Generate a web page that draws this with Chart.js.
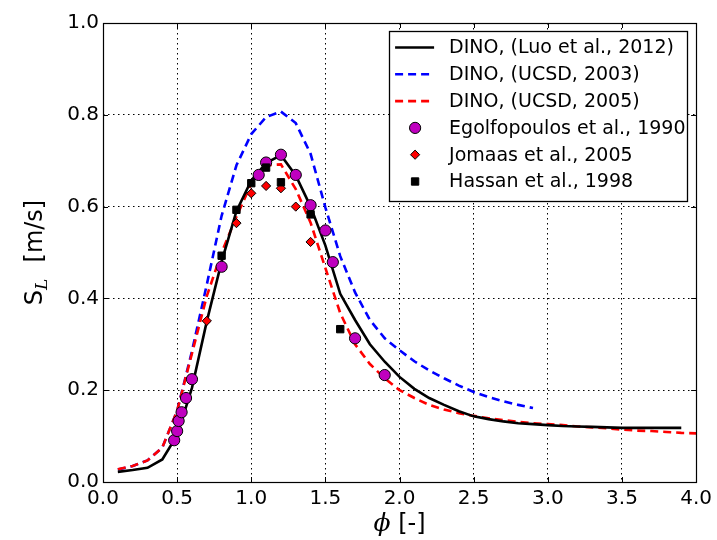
<!DOCTYPE html>
<html>
<head>
<meta charset="utf-8">
<script src="https://cdn.jsdelivr.net/npm/chart.js@4/dist/chart.umd.min.js"></script>
<style>
  html, body { margin: 0; padding: 0; background: #fff; }
  canvas { display: block; }
</style>
</head>
<body>
<canvas id="chart" width="717" height="540"></canvas>
<script>
// === Data ===
const xTicks = [0.0, 0.5, 1.0, 1.5, 2.0, 2.5, 3.0, 3.5, 4.0];
const yTicks = [0.0, 0.2, 0.4, 0.6, 0.8, 1.0];

// DINO, (Luo et al., 2012) - solid black
const luoPhi = [0.1, 0.2, 0.3, 0.4, 0.5, 0.6, 0.7, 0.8, 0.9, 1.0, 1.1, 1.2, 1.3, 1.4, 1.5, 1.6, 1.7, 1.8, 1.9, 2.0,
  2.1, 2.2, 2.3, 2.4, 2.5, 2.6, 2.7, 2.8, 2.9, 3.0, 3.1, 3.2, 3.3, 3.4, 3.5, 3.6, 3.7, 3.8, 3.9];
const luoSL = [0.022, 0.026, 0.031, 0.049, 0.102, 0.205, 0.35, 0.48, 0.59, 0.657, 0.695, 0.712, 0.668, 0.6, 0.515, 0.41, 0.353, 0.3, 0.262, 0.229,
  0.203, 0.183, 0.168, 0.154, 0.143, 0.137, 0.132, 0.128, 0.126, 0.124, 0.122, 0.121, 0.12, 0.119, 0.118, 0.118, 0.118, 0.118, 0.118];

// DINO, (UCSD, 2003) - dashed blue
const ucsd03Phi = [0.1, 0.2, 0.3, 0.4, 0.5, 0.6, 0.7, 0.8, 0.9, 1.0, 1.1, 1.2, 1.3, 1.4, 1.5, 1.6, 1.7, 1.8, 1.9, 2.0,
  2.1, 2.2, 2.3, 2.4, 2.5, 2.6, 2.7, 2.8, 2.9];
const ucsd03SL = [0.027, 0.035, 0.047, 0.075, 0.155, 0.285, 0.43, 0.58, 0.69, 0.758, 0.795, 0.807, 0.782, 0.715, 0.598, 0.492, 0.413, 0.353, 0.313, 0.287,
  0.263, 0.243, 0.226, 0.21, 0.196, 0.185, 0.176, 0.168, 0.161];

// DINO, (UCSD, 2005) - dashed red
const ucsd05Phi = [0.1, 0.2, 0.3, 0.4, 0.5, 0.6, 0.7, 0.8, 0.9, 1.0, 1.1, 1.2, 1.3, 1.4, 1.5, 1.6, 1.7, 1.8, 1.9, 2.0,
  2.1, 2.2, 2.3, 2.4, 2.5, 2.6, 2.7, 2.8, 2.9, 3.0, 3.1, 3.2, 3.3, 3.4, 3.5, 3.6, 3.7, 3.8, 3.9, 4.0];
const ucsd05SL = [0.028, 0.035, 0.047, 0.075, 0.155, 0.28, 0.405, 0.5, 0.578, 0.65, 0.69, 0.692, 0.638, 0.565, 0.466, 0.368, 0.3, 0.257, 0.226, 0.2,
  0.183, 0.168, 0.158, 0.15, 0.144, 0.139, 0.135, 0.131, 0.128, 0.126, 0.124, 0.121, 0.119, 0.117, 0.114, 0.112, 0.111, 0.109, 0.107, 0.106];

// Egolfopoulos et al., 1990 - magenta circles
const egolfPhi = [0.48, 0.50, 0.51, 0.53, 0.56, 0.60, 0.80, 1.05, 1.10, 1.20, 1.30, 1.40, 1.50, 1.55, 1.70, 1.90];
const egolfSL = [0.091, 0.111, 0.133, 0.152, 0.183, 0.224, 0.469, 0.669, 0.696, 0.713, 0.669, 0.603, 0.548, 0.479, 0.313, 0.233];

// Jomaas et al., 2005 - red diamonds
const jomaasPhi = [0.7, 0.9, 1.0, 1.1, 1.2, 1.3, 1.4];
const jomaasSL = [0.351, 0.564, 0.629, 0.645, 0.64, 0.6, 0.523];

// Hassan et al., 1998 - black squares
const hassanPhi = [0.8, 0.9, 1.0, 1.1, 1.2, 1.4, 1.6];
const hassanSL = [0.493, 0.593, 0.651, 0.685, 0.653, 0.583, 0.333];

const pts = (xs, ys) => xs.map((x, i) => ({ x, y: ys[i] }));

const FONT = "'DejaVu Sans', 'Liberation Sans', sans-serif";
const MATH = "'DejaVu Serif', serif";

// === Datasets (listed in legend order; `order` controls stacking) ===
const datasets = [
  { label: "DINO, (Luo et al., 2012)", data: pts(luoPhi, luoSL), showLine: true,
    borderColor: "#000", borderWidth: 2.6, pointRadius: 0, order: 4 },
  { label: "DINO, (UCSD, 2003)", data: pts(ucsd03Phi, ucsd03SL), showLine: true,
    borderColor: "#0000ff", borderWidth: 2.6, borderDash: [8, 5], pointRadius: 0, order: 6 },
  { label: "DINO, (UCSD, 2005)", data: pts(ucsd05Phi, ucsd05SL), showLine: true,
    borderColor: "#ff0000", borderWidth: 2.6, borderDash: [8, 5], pointRadius: 0, order: 5 },
  { label: "Egolfopoulos et al., 1990", data: pts(egolfPhi, egolfSL), showLine: false,
    pointStyle: "circle", pointRadius: 5.6, backgroundColor: "#bf00bf", borderColor: "#000", borderWidth: 1, order: 3 },
  { label: "Jomaas et al., 2005", data: pts(jomaasPhi, jomaasSL), showLine: false,
    pointStyle: "rectRot", pointRadius: 4.6, backgroundColor: "#ff0000", borderColor: "#000", borderWidth: 1, order: 2 },
  { label: "Hassan et al., 1998", data: pts(hassanPhi, hassanSL), showLine: false,
    pointStyle: "rect", pointRadius: 5.2, backgroundColor: "#000", borderColor: "#000", borderWidth: 1, order: 1 },
];

// === Frame + inward ticks on all four sides ===
const framePlugin = {
  id: "frame",
  afterDraw(chart) {
    const { ctx, chartArea: a, scales } = chart;
    ctx.save();
    ctx.strokeStyle = "#000";
    ctx.lineWidth = 1;
    const len = 5;
    ctx.beginPath();
    xTicks.forEach((v) => {
      const px = Math.round(scales.x.getPixelForValue(v)) + 0.5;
      ctx.moveTo(px, a.bottom); ctx.lineTo(px, a.bottom - len);
      ctx.moveTo(px, a.top); ctx.lineTo(px, a.top + len);
    });
    yTicks.forEach((v) => {
      const py = Math.round(scales.y.getPixelForValue(v)) + 0.5;
      ctx.moveTo(a.left, py); ctx.lineTo(a.left + len, py);
      ctx.moveTo(a.right, py); ctx.lineTo(a.right - len, py);
    });
    ctx.stroke();
    ctx.lineWidth = 1.2;
    ctx.strokeRect(Math.round(a.left) + 0.5, Math.round(a.top) + 0.5,
      Math.round(a.right - a.left), Math.round(a.bottom - a.top));
    ctx.restore();
  },
};

// === Axis titles (S_L with subscript, italic phi) ===
const titlePlugin = {
  id: "titles",
  afterDraw(chart) {
    const { ctx, chartArea: a } = chart;
    ctx.save();
    ctx.fillStyle = "#000";
    ctx.textBaseline = "alphabetic";

    // y title
    const big = "24px " + FONT, sub = "italic 17px " + MATH;
    ctx.font = big; const wS = ctx.measureText("S").width;
    const wRest = ctx.measureText("  [m/s]").width;
    ctx.font = sub; const wL = ctx.measureText("L").width + 1;
    const total = wS + wL + wRest;
    ctx.translate(42, (a.top + a.bottom) / 2);
    ctx.rotate(-Math.PI / 2);
    let x = -total / 2;
    ctx.font = big; ctx.fillText("S", x, 0); x += wS;
    ctx.font = sub; ctx.fillText("L", x, 5); x += wL;
    ctx.font = big; ctx.fillText("  [m/s]", x, 0);
    ctx.setTransform(1, 0, 0, 1, 0, 0);

    // x title
    const phiFont = "italic 25px " + MATH;
    ctx.font = phiFont; const wPhi = ctx.measureText("\u03d5").width;
    ctx.font = big; const wBr = ctx.measureText(" [-]").width;
    let x0 = (a.left + a.right) / 2 - (wPhi + wBr) / 2;
    const base = 531;
    ctx.font = phiFont; ctx.fillText("\u03d5", x0, base);
    ctx.font = big; ctx.fillText(" [-]", x0 + wPhi, base);
    ctx.restore();
  },
};

// === Boxed legend inside the plot, upper right ===
const legendPlugin = {
  id: "boxLegend",
  afterDraw(chart) {
    const { ctx, chartArea: a } = chart;
    const rowH = 26.8, w = 298, h = 170;
    const bx = a.right - 9 - w, by = a.top + 8;
    ctx.save();
    ctx.fillStyle = "#fff";
    ctx.fillRect(bx, by, w, h);
    ctx.strokeStyle = "#000";
    ctx.lineWidth = 1.3;
    ctx.strokeRect(Math.round(bx) + 0.5, Math.round(by) + 0.5, w, h);
    ctx.font = "19px " + FONT;
    ctx.textBaseline = "middle";
    chart.data.datasets.forEach((ds, i) => {
      const cy = by + 16.5 + i * rowH;
      const sx = bx + 6, ex = bx + 45, mx = bx + 26;
      if (ds.showLine) {
        ctx.save();
        ctx.strokeStyle = ds.borderColor;
        ctx.lineWidth = ds.borderWidth;
        ctx.setLineDash(ds.borderDash || []);
        ctx.beginPath(); ctx.moveTo(sx, cy); ctx.lineTo(ex, cy); ctx.stroke();
        ctx.restore();
      } else {
        ctx.save();
        ctx.fillStyle = ds.backgroundColor;
        ctx.strokeStyle = ds.borderColor;
        ctx.lineWidth = ds.borderWidth;
        const r = ds.pointRadius;
        ctx.beginPath();
        if (ds.pointStyle === "circle") ctx.arc(mx, cy, r, 0, Math.PI * 2);
        else if (ds.pointStyle === "rectRot") {
          ctx.moveTo(mx - r, cy); ctx.lineTo(mx, cy - r); ctx.lineTo(mx + r, cy); ctx.lineTo(mx, cy + r); ctx.closePath();
        } else {
          const s = r * Math.SQRT1_2; ctx.rect(mx - s, cy - s, 2 * s, 2 * s);
        }
        ctx.fill(); ctx.stroke();
        ctx.restore();
      }
      ctx.fillStyle = "#000";
      ctx.fillText(ds.label, bx + 60, cy + 1);
    });
    ctx.restore();
  },
};

// === Build chart ===
new Chart(document.getElementById("chart"), {
  type: "scatter",
  data: { datasets },
  options: {
    responsive: false,
    animation: false,
    devicePixelRatio: 1,
    layout: { padding: { top: 23, right: 18, left: 0, bottom: 0 } },
    plugins: { legend: { display: false }, tooltip: { enabled: false } },
    elements: { line: { tension: 0, fill: false } },
    scales: {
      x: {
        type: "linear", min: 0, max: 4,
        afterBuildTicks: (s) => { s.ticks = xTicks.map((v) => ({ value: v })); },
        afterFit: (s) => { s.height = 58; },
        ticks: { callback: (v) => Number(v).toFixed(1), color: "#000", padding: 5,
          font: { family: FONT, size: 20 }, maxRotation: 0 },
        grid: { color: "#000", lineWidth: 1, drawTicks: false },
        border: { display: false, dash: [1.5, 3.5] },
      },
      y: {
        type: "linear", min: 0, max: 1,
        afterBuildTicks: (s) => { s.ticks = yTicks.map((v) => ({ value: v })); },
        afterFit: (s) => { s.width = 103; },
        ticks: { callback: (v) => Number(v).toFixed(1), color: "#000", padding: 4,
          font: { family: FONT, size: 20 } },
        grid: { color: "#000", lineWidth: 1, drawTicks: false },
        border: { display: false, dash: [1.5, 3.5] },
      },
    },
  },
  plugins: [framePlugin, titlePlugin, legendPlugin],
});
</script>
</body>
</html>
